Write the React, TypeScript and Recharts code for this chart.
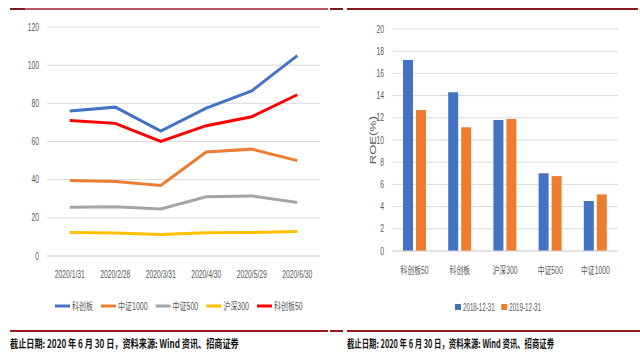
import React from 'react'
import {
  LineChart, Line, BarChart, Bar, XAxis, YAxis, CartesianGrid, Legend,
} from 'recharts'

// 左：各指数PE走势
const months = ['2020/1/31', '2020/2/28', '2020/3/31', '2020/4/30', '2020/5/29', '2020/6/30']
const kcb = [76, 78, 65.5, 77.5, 86.5, 105]
const zz1000 = [39.5, 39, 37, 54.5, 56, 50]
const zz500 = [25.5, 25.8, 24.6, 31, 31.5, 28]
const hs300 = [12.3, 12, 11.3, 12.2, 12.3, 12.8]
const kcb50 = [71, 69.5, 60, 68.3, 73, 84.5]
const peTicks = [0, 20, 40, 60, 80, 100, 120]
const lineOrder = ['kcb', 'zz1000', 'zz500', 'hs300', 'kcb50']

// 右：ROE对比
const indices = ['科创板50', '科创板', '沪深300', '中证500', '中证1000']
const roe2018 = [17.2, 14.3, 11.8, 7.0, 4.5]
const roe2019 = [12.7, 11.15, 11.9, 6.75, 5.1]
const roeTicks = [0, 2, 4, 6, 8, 10, 12, 14, 16, 18, 20]
const barOrder = ['y2018', 'y2019']

const caption = '截止日期: 2020 年 6 月 30 日，资料来源: Wind 资讯、招商证券'

const FONT = '"Liberation Sans", "Noto Sans CJK SC", sans-serif'
const GREY = '#595959'
const GRID = '#d9d9d9'
const SQUEEZE = 0.68

const peData = months.map((m, i) => ({
  month: m, kcb: kcb[i], zz1000: zz1000[i], zz500: zz500[i], hs300: hs300[i], kcb50: kcb50[i],
}))
const roeData = indices.map((name, i) => ({ name, y2018: roe2018[i], y2019: roe2019[i] }))

const textWidth = (s: string) =>
  [...s].reduce((w, c) => w + (/[\u4e00-\u9fff]/.test(c) ? 7 : c === '-' ? 2.3 : 3.9), 0)

const ordered = (payload: any[], order: string[]) =>
  [...(payload || [])].sort((a, b) => order.indexOf(a.dataKey) - order.indexOf(b.dataKey))

function NarrowTick({ x, y, payload, textAnchor, shift }: any) {
  return (
    <g transform={`translate(${x},${y}) scale(${SQUEEZE},1)`}>
      <text textAnchor={textAnchor} dy={shift} fill={GREY} fontSize={10} fontFamily={FONT}>
        {payload.value}
      </text>
    </g>
  )
}

function LineLegend({ payload }: any) {
  let x = 0
  const items = ordered(payload, lineOrder).map((p: any) => {
    const item = { ...p, x }
    x += 17 + textWidth(String(p.value)) + 8
    return item
  })
  return (
    <svg width={x} height={14} style={{ display: 'block' }}>
      {items.map((p: any) => (
        <g key={p.value}>
          <line x1={p.x} x2={p.x + 15} y1={7} y2={7} stroke={p.color} strokeWidth={3} />
          <g transform={`translate(${p.x + 17},7) scale(0.7,1)`}>
            <text dy="0.355em" fill={GREY} fontSize={10} fontFamily={FONT}>{p.value}</text>
          </g>
        </g>
      ))}
    </svg>
  )
}

function BarLegend({ payload }: any) {
  let x = 0
  const items = ordered(payload, barOrder).map((p: any) => {
    const item = { ...p, x }
    x += 8 + textWidth(String(p.value)) * 0.9 + 6
    return item
  })
  return (
    <svg width={x} height={14} style={{ display: 'block' }}>
      {items.map((p: any) => (
        <g key={p.value}>
          <rect x={p.x} y={4} width={6} height={6} fill={p.color} />
          <g transform={`translate(${p.x + 8},7) scale(0.62,1)`}>
            <text dy="0.355em" fill={GREY} fontSize={10} fontFamily={FONT}>{p.value}</text>
          </g>
        </g>
      ))}
    </svg>
  )
}

function RoeLabel({ viewBox }: any) {
  const cx = viewBox.x + viewBox.width / 2 + 12
  const cy = viewBox.y + viewBox.height / 2
  return (
    <g transform={`translate(${cx},${cy}) scale(${SQUEEZE},1) rotate(-90)`}>
      <text textAnchor="middle" dy="0.355em" fill={GREY} fontSize={13} fontFamily={FONT}>ROE(%)</text>
    </g>
  )
}

const rule = (left: number, top: number, width: number, color: string) => (
  <div style={{ position: 'absolute', left, top, width, height: 2, background: color }} />
)

const captionStyle = (left: number, scale: number): React.CSSProperties => ({
  position: 'absolute', left, top: 336, fontSize: 11, lineHeight: '14px', fontWeight: 700,
  fontFamily: '"Noto Sans CJK SC", sans-serif', color: '#111', whiteSpace: 'nowrap',
  transform: `scaleX(${scale})`, transformOrigin: 'left center',
})

export default function App() {
  return (
    <div style={{ position: 'absolute', left: 0, top: 0, width: 640, height: 356, background: '#fff', overflow: 'hidden' }}>
      {rule(10, 8, 318, '#b9586a')}
      {rule(10, 8, 15, '#7a1a1a')}
      {rule(330, 8, 13, '#7a1a1a')}
      {rule(347, 8, 291, '#8b1a1a')}
      {rule(10, 330, 318, '#9b1b1b')}
      {rule(330, 330, 13, '#8b1a1a')}
      {rule(347, 330, 281, '#8b1a1a')}
      {rule(628, 330, 12, '#8b1a1a')}

      <div style={{ position: 'absolute', left: 0, top: 0 }}>
        <LineChart width={330} height={325} data={peData} margin={{ top: 27, right: 10, left: 0, bottom: 39 }}>
          <CartesianGrid vertical={false} stroke={GRID} />
          <XAxis
            dataKey="month"
            padding={{ left: 22.75, right: 22.75 }}
            interval={0}
            axisLine={{ stroke: GRID }}
            tickLine={false}
            tickSize={0}
            tickMargin={15}
            tick={(p: any) => <NarrowTick {...p} shift="0.71em" />}
          />
          <YAxis
            width={47}
            domain={[0, 120]}
            ticks={peTicks}
            interval={0}
            axisLine={false}
            tickLine={false}
            tick={(p: any) => <NarrowTick {...p} shift="0.355em" />}
          />
          <Line dataKey="kcb" name="科创板" stroke="#4472C4" strokeWidth={3} dot={false} isAnimationActive={false} />
          <Line dataKey="zz1000" name="中证1000" stroke="#ED7D31" strokeWidth={3} dot={false} isAnimationActive={false} />
          <Line dataKey="zz500" name="中证500" stroke="#A5A5A5" strokeWidth={3} dot={false} isAnimationActive={false} />
          <Line dataKey="hs300" name="沪深300" stroke="#FFC000" strokeWidth={3} dot={false} isAnimationActive={false} />
          <Line dataKey="kcb50" name="科创板50" stroke="#FF0000" strokeWidth={3} dot={false} isAnimationActive={false} />
          <Legend
            verticalAlign="middle"
            content={<LineLegend />}
            wrapperStyle={{ top: 299, left: 55, width: 270 }}
          />
        </LineChart>
      </div>

      <div style={{ position: 'absolute', left: 330, top: 0 }}>
        <BarChart
          width={310}
          height={325}
          data={roeData}
          margin={{ top: 29, right: 22, left: 0, bottom: 44 }}
          barGap={3}
          barSize={10}
        >
          <CartesianGrid vertical={false} stroke={GRID} />
          <XAxis
            dataKey="name"
            interval={0}
            axisLine={{ stroke: GRID }}
            tickLine={false}
            tickSize={0}
            tickMargin={16}
            tick={(p: any) => <NarrowTick {...p} shift="0.71em" />}
          />
          <YAxis
            width={62}
            domain={[0, 20]}
            ticks={roeTicks}
            interval={0}
            axisLine={false}
            tickLine={false}
            tick={(p: any) => <NarrowTick {...p} shift="0.355em" />}
            label={<RoeLabel />}
          />
          <Bar dataKey="y2018" name="2018-12-31" fill="#4472C4" isAnimationActive={false} />
          <Bar dataKey="y2019" name="2019-12-31" fill="#ED7D31" isAnimationActive={false} />
          <Legend
            verticalAlign="middle"
            content={<BarLegend />}
            wrapperStyle={{ top: 300, left: 125, width: 120 }}
          />
        </BarChart>
      </div>

      <div style={captionStyle(10, 0.74)}>{caption}</div>
      <div style={captionStyle(347, 0.67)}>{caption}</div>
    </div>
  )
}
